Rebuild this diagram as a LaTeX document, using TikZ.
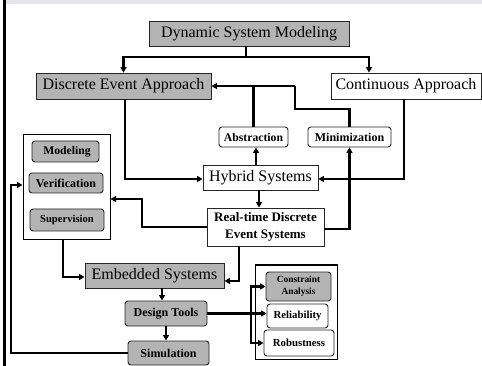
\documentclass[tikz,border=0pt]{standalone}
\usepackage{fontspec}
\setmainfont{Liberation Serif}
\usetikzlibrary{arrows.meta,calc}
\definecolor{boxgray}{RGB}{180,180,180}
\definecolor{topstrip}{RGB}{228,228,234}
\begin{document}
\begin{tikzpicture}[x=1pt,y=-1pt,
 box/.style={draw=black!85,line width=0.9pt,inner sep=0pt,align=center},
 big/.style={box,fill=white,font=\fontsize{16}{18}\selectfont},
 gbig/.style={big,fill=boxgray},
 small/.style={box,fill=white,rounded corners=3pt,font=\bfseries\fontsize{12}{13}\selectfont},
 gsmall/.style={small,fill=boxgray},
 grpbox/.style={draw=black,line width=1pt,fill=white,inner sep=0pt},
 conn/.style={line width=2.1pt,-{Triangle[length=5.5pt,width=6pt]}},
 bconn/.style={line width=2.1pt,{Triangle[length=5.5pt,width=6pt]}-{Triangle[length=5.5pt,width=6pt]}},
 plain/.style={line width=2.1pt},
]
\useasboundingbox (0,0) rectangle (482,366);
\fill[white] (0,0) rectangle (482,366);
\fill[topstrip] (6,0) rectangle (482,4);
\fill[black] (3,0) rectangle (6,366);

% group boxes
\node[grpbox,minimum width=87pt,minimum height=105pt] (grp) at (66.5,187.5) {};
\node[grpbox,minimum width=82pt,minimum height=94pt] (rgrp) at (296,312) {};

% main nodes
\node[gbig,minimum width=200pt,minimum height=25pt] (dsm) at (249,33.5) {Dynamic System Modeling};
\node[gbig,minimum width=175pt,minimum height=26pt] (dea) at (123.5,86) {Discrete Event Approach};
\node[big,minimum width=150pt,minimum height=26pt] (ca) at (406,86) {Continuous Approach};
\node[small,minimum width=69pt,minimum height=20pt,font=\bfseries\fontsize{11.7}{13}\selectfont] (abs) at (253.5,137) {Abstraction};
\node[small,minimum width=83pt,minimum height=20pt] (min) at (349.5,137) {Minimization};
\node[big,minimum width=115pt,minimum height=25pt] (hyb) at (260.5,177.5) {Hybrid Systems};
\node[box,fill=white,minimum width=117pt,minimum height=38pt,font=\bfseries\fontsize{13}{17}\selectfont] (rt) at (265.5,227) {Real-time Discrete\\Event Systems};
\node[gsmall,minimum width=67pt,minimum height=21pt,font=\bfseries\fontsize{11.7}{13}\selectfont] (mod) at (65.5,151.5) {\hspace*{3pt}Modeling};
\node[gsmall,minimum width=74pt,minimum height=20pt] (ver) at (66,183) {Verification};
\node[gsmall,minimum width=74pt,minimum height=22pt,font=\bfseries\fontsize{10.6}{12}\selectfont] (sup) at (67,220) {Supervision};
\node[gbig,minimum width=139pt,minimum height=25pt] (emb) at (154.5,275.5) {Embedded Systems};
\node[gsmall,minimum width=82pt,minimum height=25pt] (dt) at (166,313.5) {Design Tools};
\node[gsmall,minimum width=81pt,minimum height=24pt] (sim) at (168.5,353) {Simulation};
\node[gsmall,minimum width=65pt,minimum height=29pt,font=\bfseries\fontsize{9.4}{12}\selectfont] (con) at (298.5,286.5) {Constraint\\Analysis};
\node[small,minimum width=61pt,minimum height=24pt,font=\bfseries\fontsize{10.8}{12}\selectfont] (rel) at (297.5,316) {Reliability};
\node[small,minimum width=70pt,minimum height=26pt,font=\bfseries\fontsize{10.8}{12}\selectfont] (rob) at (299,343) {Robustness};

% helper coordinates
\coordinate (j1) at (246,57);
\coordinate (m1) at (295,109);
\coordinate (m2) at (295,86);
\coordinate (r1) at (142,227);
\coordinate (r2) at (142,199);
\coordinate (lp) at (11,185);
\coordinate (bk) at (251,300);

% connectors
\draw[plain] (dsm.south -| j1) -- (j1);
\draw[conn] (j1) -| (dea.north);
\draw[conn] (j1) -| ([xshift=-37pt]ca.north);
\draw[plain] (min.north) |- (m1) -- (m2);
\draw[conn] (m2) -- (dea.east);
\draw[plain] (abs.north) -- (abs.north |- dea.east);
\draw[conn] ([xshift=2.5pt]abs.south |- hyb.north) -- ([xshift=2.5pt]abs.south);
\draw[conn] ([xshift=-2pt]ca.south) |- ([yshift=-1.5pt]hyb.east);
\draw[conn] ([xshift=1.5pt]dea.south) |- ([yshift=-1.5pt]hyb.west);
\draw[conn] ([xshift=-1.5pt]hyb.south) -- ([xshift=-1.5pt]hyb.south |- rt.north);
\draw[conn] ([yshift=-2pt]rt.east) -| (min.south);
\draw[conn] ([yshift=0pt]rt.west) -- (r1) -- (r2) -- (r2 -| grp.east);
\draw[conn] ([xshift=-3.5pt]grp.south) |- ([yshift=-1.5pt]emb.west);
\draw[conn] ([xshift=-26.5pt]rt.south) |- ([yshift=-5.5pt]emb.east);
\draw[conn] ([xshift=-4pt]dt.north |- emb.south) -- ([xshift=-4pt]dt.north);
\draw[conn] (dt.south) -- (dt.south |- sim.north);
\draw[conn] (sim.west) -| (lp) -- (lp -| grp.west);
\draw[conn] (dt.east) -- (dt.east -| rel.west);
\draw[bconn] (con.west) -- (con.west -| bk) -- (rob.west -| bk) -- (rob.west);
\end{tikzpicture}
\end{document}
